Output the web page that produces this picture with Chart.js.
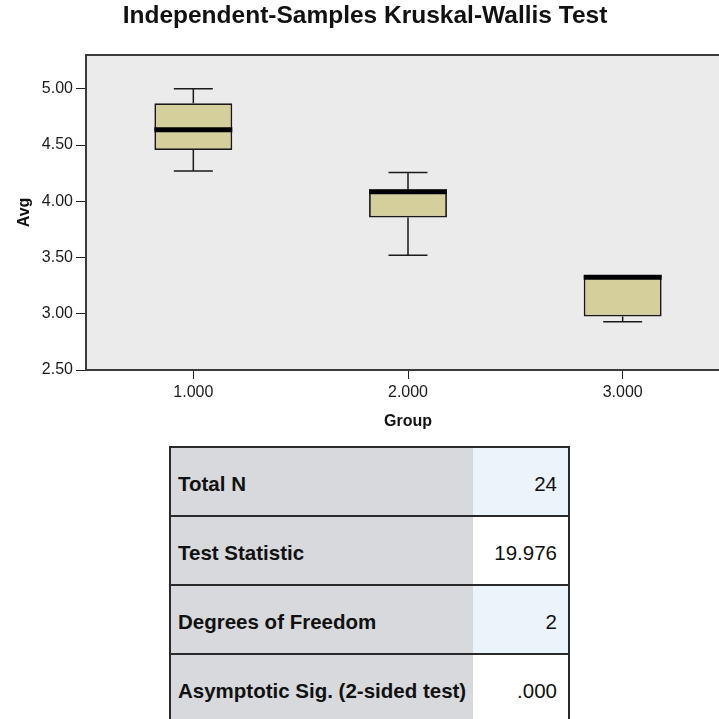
<!DOCTYPE html>
<html>
<head>
<meta charset="utf-8">
<script src="https://cdn.jsdelivr.net/npm/chart.js@4.4.1/dist/chart.umd.min.js"></script>
<style>
  html, body { margin: 0; padding: 0; background: #fff; overflow: hidden; width: 719px; height: 719px; }
  #chartWrap { position: absolute; left: 0; top: 0; width: 730px; height: 440px; }
  #stats {
    position: absolute; left: 169px; top: 446px; width: 399px; table-layout: fixed;
    border-collapse: collapse; font-family: "Liberation Sans", Arial, sans-serif; font-size: 20.5px;
    border-left: 2px solid #2a2a2a; border-right: 2px solid #2a2a2a;
  }
  #stats tr { border-top: 2px solid #2a2a2a; border-bottom: 2px solid #2a2a2a; }
  #stats td { height: 62px; padding: 5px 0 0 0; color: #111; white-space: nowrap; vertical-align: middle; }
  #stats td.label { background: #d7d9dc; font-weight: bold; padding-left: 7px; }
  #stats td.value { text-align: right; padding-right: 11px; background: #fff; }
  #stats tr:nth-child(odd) td.value { background: #ecf4fb; }
</style>
</head>
<body>
<div id="chartWrap"><canvas id="boxChart"></canvas></div>
<table id="stats">
  <colgroup><col style="width: 303px"><col style="width: 96px"></colgroup>
  <tbody id="statsBody"></tbody>
</table>

<script>
// ======================================
// Data
// ======================================

const groups = ["1.000", "2.000", "3.000"];
const whiskerLow = [4.27, 3.52, 2.93];
const q1 = [4.455, 3.855, 2.975];
const median = [4.635, 4.085, 3.325];
const q3 = [4.872, 4.105, 3.345];
const whiskerHigh = [5.0, 4.255, 3.345];

const yTicks = [2.5, 3.0, 3.5, 4.0, 4.5, 5.0];

const statLabels = ["Total N", "Test Statistic", "Degrees of Freedom", "Asymptotic Sig. (2-sided test)"];
const statValues = ["24", "19.976", "2", ".000"];

const FONT = "'Liberation Sans', Arial, sans-serif";

// ======================================
// Plugins
// ======================================

const plotFrame = {
  id: "plotFrame",
  beforeDraw(chart) {
    const { ctx, chartArea: a } = chart;
    ctx.save();
    ctx.fillStyle = "#ebebeb";
    ctx.fillRect(a.left, a.top, a.right - a.left, a.bottom - a.top);
    ctx.strokeStyle = "#3a3a3a";
    ctx.lineWidth = 2;
    ctx.beginPath();
    ctx.moveTo(a.left, a.top);
    ctx.lineTo(a.right, a.top);
    ctx.stroke();
    ctx.restore();
  },
};

const boxWhiskers = {
  id: "boxWhiskers",
  beforeDatasetsDraw(chart) {
    const { ctx } = chart;
    const y = chart.scales.y;
    const bars = chart.getDatasetMeta(0).data;
    ctx.save();
    ctx.strokeStyle = "#1a1a1a";
    ctx.lineWidth = 1.5;
    bars.forEach((bar, i) => {
      const cap = bar.width / 4;
      const ends = [
        [q3[i], whiskerHigh[i]],
        [q1[i], whiskerLow[i]],
      ];
      ends.forEach(([from, to]) => {
        if (from === to) return;
        const y0 = y.getPixelForValue(from);
        const y1 = y.getPixelForValue(to);
        ctx.beginPath();
        ctx.moveTo(bar.x, y0);
        ctx.lineTo(bar.x, y1);
        ctx.moveTo(bar.x - cap, y1);
        ctx.lineTo(bar.x + cap, y1);
        ctx.stroke();
      });
    });
    ctx.restore();
  },
  afterDatasetsDraw(chart) {
    const { ctx } = chart;
    const y = chart.scales.y;
    const bars = chart.getDatasetMeta(0).data;
    ctx.save();
    ctx.strokeStyle = "#000";
    ctx.lineWidth = 5;
    bars.forEach((bar, i) => {
      const ym = y.getPixelForValue(median[i]);
      ctx.beginPath();
      ctx.moveTo(bar.x - bar.width / 2, ym);
      ctx.lineTo(bar.x + bar.width / 2, ym);
      ctx.stroke();
    });
    ctx.restore();
  },
};

// ======================================
// Chart
// ======================================

new Chart(document.getElementById("boxChart"), {
  type: "bar",
  data: {
    labels: groups,
    datasets: [
      {
        data: groups.map((_, i) => [q1[i], q3[i]]),
        backgroundColor: "#d4cf9b",
        borderColor: "#1a1a1a",
        borderWidth: 1.8,
        borderSkipped: false,
        barPercentage: 0.363,
        categoryPercentage: 1,
      },
    ],
  },
  options: {
    responsive: true,
    maintainAspectRatio: false,
    animation: false,
    layout: { padding: 0 },
    plugins: {
      legend: { display: false },
      tooltip: { enabled: false },
      title: {
        display: true,
        text: "Independent-Samples Kruskal-Wallis Test",
        color: "#111",
        font: { family: FONT, size: 24.5, weight: "bold" },
        padding: { top: 2, bottom: 23.6 },
      },
    },
    scales: {
      x: {
        offset: true,
        grid: { offset: false, drawOnChartArea: false, tickLength: 9, color: "#222" },
        border: { color: "#3a3a3a", width: 2 },
        ticks: { color: "#1a1a1a", padding: 4, font: { family: FONT, size: 16 } },
        title: {
          display: true,
          text: "Group",
          color: "#111",
          font: { family: FONT, size: 16, weight: "bold" },
          padding: { top: 0, bottom: 9 },
        },
        afterFit: (scale) => { scale.height = 70; },
      },
      y: {
        min: 2.5,
        max: 5.3,
        afterBuildTicks: (scale) => { scale.ticks = yTicks.map((v) => ({ value: v })); },
        grid: { drawOnChartArea: false, tickLength: 10, color: "#222" },
        border: { color: "#3a3a3a", width: 2 },
        ticks: { color: "#1a1a1a", padding: 3, font: { family: FONT, size: 16 }, callback: (v) => Number(v).toFixed(2) },
        title: {
          display: true,
          text: "Avg",
          color: "#111",
          font: { family: FONT, size: 16, weight: "bold" },
          padding: { top: 15, bottom: 0 },
        },
        afterFit: (scale) => { scale.width = 86; },
      },
    },
  },
  plugins: [plotFrame, boxWhiskers],
});

// ======================================
// Stats Table
// ======================================

const tbody = document.getElementById("statsBody");
statLabels.forEach((label, i) => {
  tbody.innerHTML += `
    <tr>
      <td class="label">${label}</td>
      <td class="value">${statValues[i]}</td>
    </tr>
  `;
});
</script>
</body>
</html>
